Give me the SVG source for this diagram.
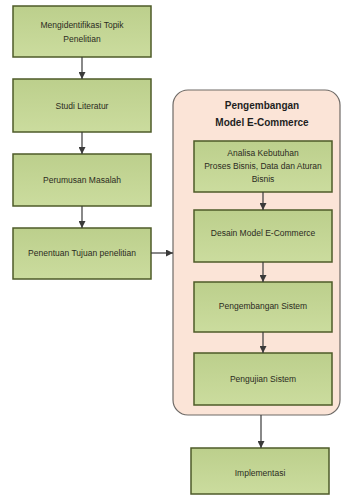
<svg xmlns="http://www.w3.org/2000/svg" width="341" height="497" viewBox="0 0 341 497">
<defs>
<linearGradient id="g" x1="0" y1="0" x2="0" y2="1">
<stop offset="0" stop-color="#bccf8c"/>
<stop offset="1" stop-color="#cbdc9e"/>
</linearGradient>
<marker id="ah" viewBox="0 0 10 10" refX="10" refY="5" markerWidth="7" markerHeight="7" markerUnits="userSpaceOnUse" orient="auto">
<path d="M0,0 L10,5 L0,10 z" fill="#3a3a3a"/>
</marker>
<style>
.box{fill:url(#g);stroke:#4e5b28;stroke-width:1.5}
.t{font-family:"Liberation Sans",Arial,sans-serif;font-size:8.5px;fill:#2b2b1e;text-anchor:middle}
.h{font-family:"Liberation Sans",Arial,sans-serif;font-size:10px;font-weight:bold;fill:#1e1e1e;text-anchor:middle}
.c{stroke:#3a3a3a;stroke-width:1.2;fill:none;marker-end:url(#ah)}
</style>
</defs>
<rect width="341" height="497" fill="#ffffff"/>
<g id="container">
<rect x="173" y="90" width="167" height="325" rx="15" ry="15" fill="#fbe4d7" stroke="#6e6a66" stroke-width="1.2"/>
<text class="h" x="262" y="109">Pengembangan</text>
<text class="h" x="262" y="126">Model E-Commerce</text>
</g>
<g id="n1"><rect class="box" x="13" y="6" width="138" height="51"/>
<text class="t" x="82" y="28">Mengidentifikasi Topik</text><text class="t" x="82" y="42">Penelitian</text></g>
<g id="n2"><rect class="box" x="13" y="79" width="138" height="53"/>
<text class="t" x="82" y="109">Studi Literatur</text></g>
<g id="n3"><rect class="box" x="13" y="154" width="138" height="52"/>
<text class="t" x="82" y="183">Perumusan Masalah</text></g>
<g id="n4"><rect class="box" x="13" y="228" width="138" height="51"/>
<text class="t" x="82" y="256">Penentuan Tujuan penelitian</text></g>
<g id="n5"><rect class="box" x="194" y="141" width="138" height="51"/>
<text class="t" x="263" y="156">Analisa Kebutuhan</text><text class="t" x="263" y="169">Proses Bisnis, Data dan Aturan</text><text class="t" x="263" y="182">Bisnis</text></g>
<g id="n6"><rect class="box" x="194" y="210" width="138" height="52"/>
<text class="t" x="263" y="236">Desain Model E-Commerce</text></g>
<g id="n7"><rect class="box" x="194" y="282" width="138" height="50"/>
<text class="t" x="263" y="309">Pengembangan Sistem</text></g>
<g id="n8"><rect class="box" x="194" y="353" width="138" height="52"/>
<text class="t" x="263" y="382">Pengujian Sistem</text></g>
<g id="n9"><rect class="box" x="191" y="448" width="138" height="46"/>
<text class="t" x="260" y="476">Implementasi</text></g>
<g id="connectors">
<line class="c" x1="82" y1="57" x2="82" y2="79"/>
<line class="c" x1="82" y1="132" x2="82" y2="154"/>
<line class="c" x1="82" y1="206" x2="82" y2="228"/>
<line class="c" x1="151" y1="253" x2="173" y2="253"/>
<line class="c" x1="263" y1="192" x2="263" y2="210"/>
<line class="c" x1="263" y1="262" x2="263" y2="282"/>
<line class="c" x1="263" y1="332" x2="263" y2="353"/>
<line class="c" x1="261" y1="415" x2="261" y2="448"/>
</g>
</svg>
